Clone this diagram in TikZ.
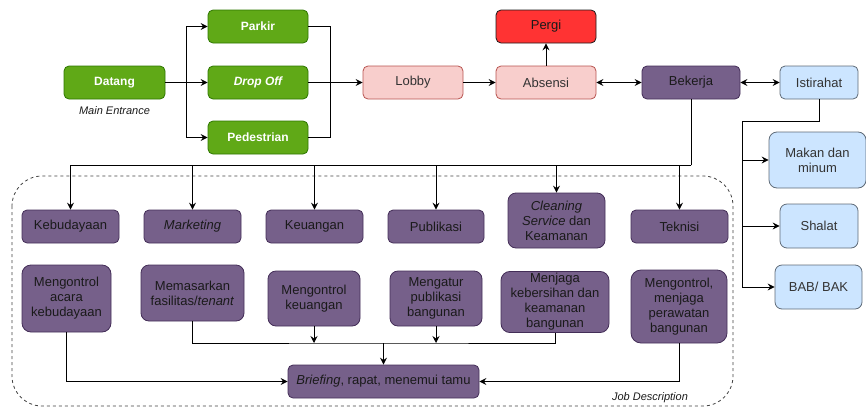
\documentclass[tikz,border=0pt]{standalone}
\usepackage{fontspec}
\setmainfont{Liberation Sans}
\usetikzlibrary{arrows.meta}
\definecolor{grnfill}{HTML}{60A917}
\definecolor{grnline}{HTML}{2D7600}
\definecolor{pinkfill}{HTML}{F8CECC}
\definecolor{pinkline}{HTML}{B85450}
\definecolor{redfill}{HTML}{FF3333}
\definecolor{purfill}{HTML}{76608A}
\definecolor{purline}{HTML}{432D57}
\definecolor{bluefill}{HTML}{CCE5FF}
\definecolor{blueline}{HTML}{5F6B78}
\definecolor{txt}{HTML}{333333}
\definecolor{dtxt}{HTML}{1A1A1A}
\begin{document}
\begin{tikzpicture}[x=1pt,y=-1pt,
  >={Stealth[length=7pt,width=7pt,inset=2.5pt]},
  sz/.style 2 args={minimum width=#1pt,minimum height=#2pt},
  box/.style={draw,rounded corners=5pt,line width=0.8pt,align=center,inner sep=2pt,
    font=\fontsize{13}{15}\selectfont},
  green/.style={box,fill=grnfill,draw=grnline,text=white,font=\fontsize{12}{14}\selectfont\bfseries},
  pink/.style={box,fill=pinkfill,draw=pinkline,text=txt},
  red/.style={box,fill=redfill,draw=dtxt,text=dtxt},
  purple/.style={box,fill=purfill,draw=purline,text=dtxt},
  blue/.style={box,fill=bluefill,draw=blueline,text=txt},
  note/.style={font=\fontsize{11}{13}\selectfont\itshape,text=dtxt},
  arr/.style={->,line width=0.9pt},
  dbl/.style={<->,line width=0.9pt},
  ln/.style={line width=0.9pt}]
\useasboundingbox (0,0) rectangle (866,407);

% job description frame
\draw[dashed,line width=0.8pt,draw=black!75,rounded corners=30pt] (12,176) rectangle (733,406);
\node[note] (jobdesc) at (650,398) {Job Description};

% arrival
\node[green,sz={101}{33}] (datang) at (114.5,82.5) {Datang};
\node[note] (entrance) at (114.5,111) {Main Entrance};
\node[green,sz={100}{33}] (parkir) at (258,26.5) {Parkir};
\node[green,sz={100}{33}] (dropoff) at (258,82.5) {\itshape Drop Off};
\node[green,sz={100}{33}] (pedestrian) at (258,137.5) {Pedestrian};
\node[pink,sz={100}{33}] (lobby) at (413,82.5) {Lobby};
\node[pink,sz={100}{33}] (absensi) at (546,82.5) {Absensi};
\node[red,sz={100}{33}] (pergi) at (546,26.5) {Pergi};
\node[purple,sz={98}{33}] (bekerja) at (691,82.5) {Bekerja};

% break
\node[blue,sz={78}{33}] (istirahat) at (819,82.5) {Istirahat};
\node[blue,sz={97}{56},rounded corners=8pt] (makan) at (817.5,160) {Makan dan\\minum};
\node[blue,sz={78}{44},rounded corners=7pt] (shalat) at (819,226) {Shalat};
\node[blue,sz={87}{44},rounded corners=7pt] (bab) at (818.5,287) {BAB/ BAK};

% divisions
\node[purple,sz={97}{33}] (keb) at (70.5,226.5) {Kebudayaan};
\node[purple,sz={97}{33}] (mark) at (192.5,226.5) {\itshape Marketing};
\node[purple,sz={97}{33}] (keu) at (314.5,226.5) {Keuangan};
\node[purple,sz={96}{33}] (pub) at (436,226.5) {Publikasi};
\node[purple,sz={97}{55},rounded corners=8pt] (clean) at (556.5,220.5) {\textit{Cleaning}\\\textit{Service} dan\\Keamanan};
\node[purple,sz={97}{33}] (tek) at (679.5,226.5) {Teknisi};

% duties
\node[purple,sz={89}{67},rounded corners=9pt] (j1) at (66.5,298.5) {Mengontrol\\acara\\kebudayaan};
\node[purple,sz={103}{56},rounded corners=8pt] (j2) at (192.5,293) {Memasarkan\\fasilitas/\textit{tenant}};
\node[purple,sz={92}{55},rounded corners=8pt] (j3) at (314,298.5) {Mengontrol\\keuangan};
\node[purple,sz={92}{55},rounded corners=8pt] (j4) at (436,298.5) {Mengatur\\publikasi\\bangunan};
\node[purple,sz={108}{60},rounded corners=9pt] (j5) at (555,302) {Menjaga\\kebersihan dan\\keamanan\\bangunan};
\node[purple,sz={96}{73},rounded corners=10pt] (j6) at (679,306.5) {Mengontrol,\\menjaga\\perawatan\\bangunan};
\node[purple,sz={191}{33}] (brief) at (383.5,381.5) {\textit{Briefing}, rapat, menemui tamu};

% arrival flow
\coordinate (split) at (186.5,82.5);
\coordinate (merge) at (330,82.5);
\draw[arr] (datang) -- (dropoff);
\draw[arr] (split) |- (parkir.west);
\draw[arr] (split) |- (pedestrian.west);
\draw[ln] (parkir.east) -| (merge);
\draw[ln] (pedestrian.east) -| (merge);
\draw[arr] (dropoff) -- (lobby);
\draw[arr] (lobby) -- (absensi);
\draw[arr] (absensi) -- (pergi);
\draw[dbl] (absensi) -- (bekerja);
\draw[dbl] (bekerja) -- (istirahat);

% break options
\coordinate (rest) at (742,121);
\draw[ln] (istirahat.south) |- (rest);
\draw[arr] (rest) |- (makan.west);
\draw[arr] (rest) |- (shalat.west);
\draw[arr] (rest) |- (bab.west);

% divisions bus
\coordinate (work) at (691,165);
\draw[ln] (bekerja.south) -- (work);
\foreach \d in {keb,mark,keu,pub,clean,tek}
  \draw[arr] (work) -| (\d.north);

% duties to briefing
\coordinate (bus) at (383.5,343);
\draw[ln] (j2.south) |- (bus) -| (j5.south);
\draw[arr] (j3.south) -- (j3.south |- bus);
\draw[arr] (j4.south) -- (j4.south |- bus);
\draw[arr] (bus) -- (brief.north);
\draw[arr] (j1.south) |- (brief.west);
\draw[arr] (j6.south) |- (brief.east);
\end{tikzpicture}
\end{document}
